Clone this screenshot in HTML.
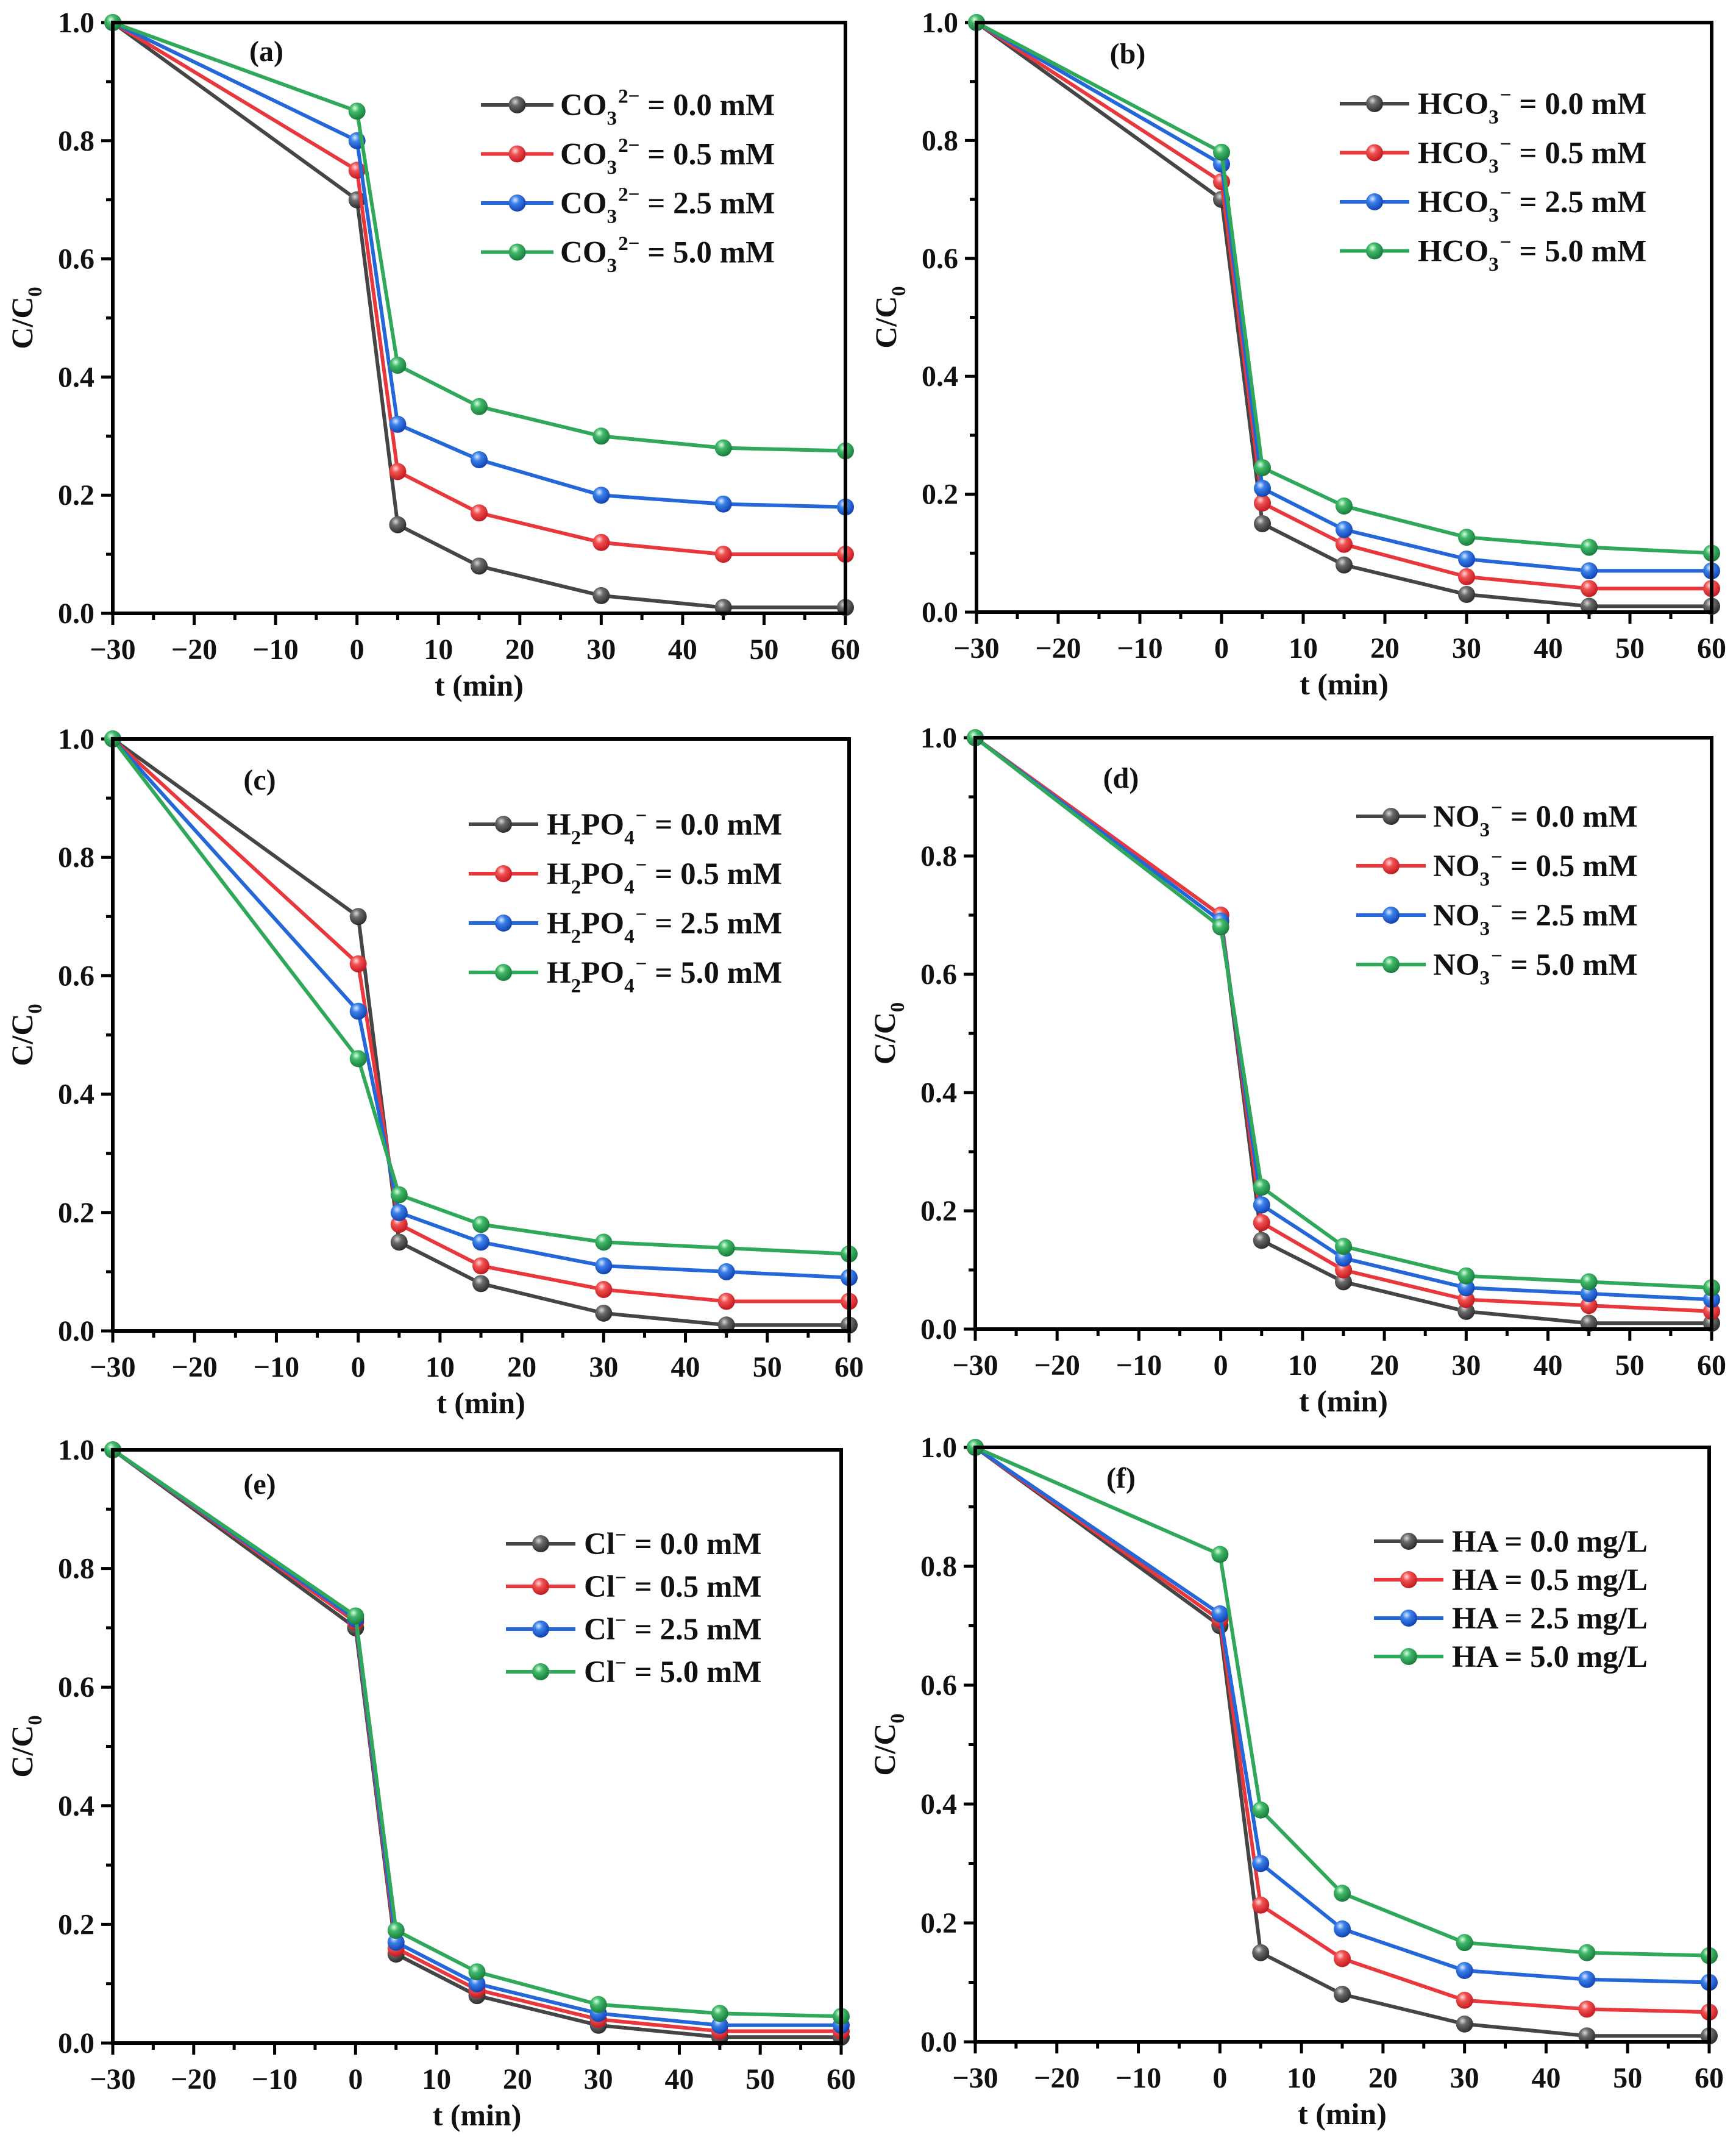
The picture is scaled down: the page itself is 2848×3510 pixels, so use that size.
<!DOCTYPE html>
<html><head><meta charset="utf-8"><style>
html,body{margin:0;padding:0;background:#fff;}
svg{display:block;}
text{font-family:"Liberation Serif",serif;font-weight:bold;fill:#111;}
</style></head>
<body>
<svg id="fig" width="2848" height="3510" viewBox="0 0 2848 3510" xmlns="http://www.w3.org/2000/svg">
<defs>
<radialGradient id="g-black" cx="0.38" cy="0.32" r="0.7"><stop offset="0" stop-color="#d8d8d8"/><stop offset="0.35" stop-color="#6a6a6a"/><stop offset="1" stop-color="#2a2a2a"/></radialGradient>
<radialGradient id="g-red" cx="0.38" cy="0.32" r="0.7"><stop offset="0" stop-color="#ffd8d8"/><stop offset="0.35" stop-color="#f05050"/><stop offset="1" stop-color="#c01820"/></radialGradient>
<radialGradient id="g-blue" cx="0.38" cy="0.32" r="0.7"><stop offset="0" stop-color="#d8e8ff"/><stop offset="0.35" stop-color="#3a80e8"/><stop offset="1" stop-color="#1040b0"/></radialGradient>
<radialGradient id="g-green" cx="0.38" cy="0.32" r="0.7"><stop offset="0" stop-color="#d8ffe4"/><stop offset="0.35" stop-color="#40b868"/><stop offset="1" stop-color="#187a3c"/></radialGradient>
</defs>
</svg>
<script>
// shared data
const times = [-30, 0, 5, 15, 30, 45, 60];
const xTicks = [-30, -20, -10, 0, 10, 20, 30, 40, 50, 60];
const yTicks = [0.0, 0.2, 0.4, 0.6, 0.8, 1.0];
const panelNames = ['a', 'b', 'c', 'd', 'e', 'f'];
const seriesColors = ['black', 'red', 'blue', 'green'];
// panel (a) CO3 2-
const aBlack = [1, 0.70, 0.15, 0.08, 0.03, 0.01, 0.01];
const aRed   = [1, 0.75, 0.24, 0.17, 0.12, 0.10, 0.10];
const aBlue  = [1, 0.80, 0.32, 0.26, 0.20, 0.185, 0.18];
const aGreen = [1, 0.85, 0.42, 0.35, 0.30, 0.28, 0.275];
// panel (b) HCO3-
const bBlack = [1, 0.70, 0.15, 0.08, 0.03, 0.01, 0.01];
const bRed   = [1, 0.73, 0.185, 0.115, 0.06, 0.04, 0.04];
const bBlue  = [1, 0.76, 0.21, 0.14, 0.09, 0.07, 0.07];
const bGreen = [1, 0.78, 0.245, 0.18, 0.127, 0.11, 0.10];
// panel (c) H2PO4-
const cBlack = [1, 0.70, 0.15, 0.08, 0.03, 0.01, 0.01];
const cRed   = [1, 0.62, 0.18, 0.11, 0.07, 0.05, 0.05];
const cBlue  = [1, 0.54, 0.20, 0.15, 0.11, 0.10, 0.09];
const cGreen = [1, 0.46, 0.23, 0.18, 0.15, 0.14, 0.13];
// panel (d) NO3-
const dBlack = [1, 0.70, 0.15, 0.08, 0.03, 0.01, 0.01];
const dRed   = [1, 0.70, 0.18, 0.10, 0.05, 0.04, 0.03];
const dBlue  = [1, 0.69, 0.21, 0.12, 0.07, 0.06, 0.05];
const dGreen = [1, 0.68, 0.24, 0.14, 0.09, 0.08, 0.07];
// panel (e) Cl-
const eBlack = [1, 0.70, 0.15, 0.08, 0.03, 0.01, 0.01];
const eRed   = [1, 0.71, 0.16, 0.09, 0.04, 0.02, 0.02];
const eBlue  = [1, 0.715, 0.17, 0.10, 0.05, 0.03, 0.03];
const eGreen = [1, 0.72, 0.19, 0.12, 0.065, 0.05, 0.045];
// panel (f) HA
const fBlack = [1, 0.70, 0.15, 0.08, 0.03, 0.01, 0.01];
const fRed   = [1, 0.71, 0.23, 0.14, 0.07, 0.055, 0.05];
const fBlue  = [1, 0.72, 0.30, 0.19, 0.12, 0.105, 0.10];
const fGreen = [1, 0.82, 0.39, 0.25, 0.167, 0.15, 0.145];
const concLevels = ['0.0', '0.5', '2.5', '5.0'];

const NS = 'http://www.w3.org/2000/svg';
const svg = document.getElementById('fig');
const lineColor = {black:'#454545', red:'#e8383d', blue:'#2467d8', green:'#2fa85a'};

function mk(tag, attrs, parent) {
  const e = document.createElementNS(NS, tag);
  for (const k in attrs) e.setAttribute(k, attrs[k]);
  (parent || svg).appendChild(e);
  return e;
}
// label parts: [text, 'n'|'sub'|'sup']
function richText(parent, x, y, parts, size, anchor) {
  const t = mk('text', {x: x, y: y, 'font-size': size, 'text-anchor': anchor || 'start'}, parent);
  let shift = 0;
  parts.forEach(p => {
    const ts = document.createElementNS(NS, 'tspan');
    let target = 0, fs = size;
    if (p[1] === 'sub') { target = size * 0.3; fs = size * 0.65; }
    if (p[1] === 'sup') { target = -size * 0.4; fs = size * 0.65; }
    ts.setAttribute('dy', target - shift);
    ts.setAttribute('font-size', fs);
    if (p[2]) ts.setAttribute('dx', p[2]);
    shift = target;
    ts.textContent = p[0];
    t.appendChild(ts);
  });
  return t;
}

const panels = [
  {id:'a', L:185, R:1387, T:37, B:1006, data:[aBlack,aRed,aBlue,aGreen], lab:[437,100], leg:{x1:789, x2:908, tx:919, y0:172, dy:80.5},
   name: c => [['CO','n'],['3','sub'],['2\u2212','sup',2],[' = '+c+' mM','n']]},
  {id:'b', L:1602, R:2808, T:37, B:1004, data:[bBlack,bRed,bBlue,bGreen], lab:[1850,104], leg:{x1:2198, x2:2312, tx:2326, y0:170, dy:80.5},
   name: c => [['HCO','n'],['3','sub'],['\u2212','sup',2],[' = '+c+' mM','n']]},
  {id:'c', L:185, R:1393, T:1212, B:2183, data:[cBlack,cRed,cBlue,cGreen], lab:[426,1295], leg:{x1:769, x2:883, tx:897, y0:1352, dy:81},
   name: c => [['H','n'],['2','sub'],['PO','n'],['4','sub'],['\u2212','sup',2],[' = '+c+' mM','n']]},
  {id:'d', L:1600, R:2808, T:1210, B:2180, data:[dBlack,dRed,dBlue,dGreen], lab:[1839,1292], leg:{x1:2225, x2:2339, tx:2351, y0:1339, dy:81},
   name: c => [['NO','n'],['3','sub'],['\u2212','sup',2],[' = '+c+' mM','n']]},
  {id:'e', L:185, R:1380, T:2378, B:3351, data:[eBlack,eRed,eBlue,eGreen], lab:[426,2450], leg:{x1:830, x2:944, tx:958, y0:2532, dy:70},
   name: c => [['Cl','n'],['\u2212','sup'],[' = '+c+' mM','n']]},
  {id:'f', L:1600, R:2804, T:2374, B:3349, data:[fBlack,fRed,fBlue,fGreen], lab:[1839,2440], leg:{x1:2254, x2:2368, tx:2382, y0:2528, dy:63},
   name: c => [['HA = '+c+' mg/L','n']]}
];

panels.forEach(p => {
  const g = mk('g', {});
  
  
  const sx = v => p.L + (v + 30) / 90 * (p.R - p.L);
  const sy = v => p.B - v * (p.B - p.T);

  for (let v = -25; v < 60; v += 10) {
    const t = mk('line', {x1: sx(v), x2: sx(v), y1: p.B, y2: p.B + 11, stroke: '#000', 'stroke-width': 5}, g);
    
    
  }
  for (let v = 0.1; v < 1; v += 0.2) {
    const t = mk('line', {x1: p.L - 11, x2: p.L, y1: sy(v), y2: sy(v), stroke: '#000', 'stroke-width': 5}, g);
    
    
  }
  xTicks.forEach(v => {
    const t = mk('line', {x1: sx(v), x2: sx(v), y1: p.B, y2: p.B + 19, stroke: '#000', 'stroke-width': 5}, g);
    
    
    const lbl = mk('text', {x: sx(v), y: p.B + 75, 'font-size': 48, 'text-anchor': 'middle'}, g);
    
    
    lbl.textContent = v < 0 ? '\u2212' + Math.abs(v) : String(v);
  });
  yTicks.forEach(v => {
    const t = mk('line', {x1: p.L - 19, x2: p.L, y1: sy(v), y2: sy(v), stroke: '#000', 'stroke-width': 5}, g);
    
    
    const lbl = mk('text', {x: p.L - 30, y: sy(v) + 16, 'font-size': 48, 'text-anchor': 'end'}, g);
    
    
    lbl.textContent = v.toFixed(1);
  });

  p.data.forEach((vals, si) => {
    const col = seriesColors[si];
    const pts = vals.map((v, i) => sx(times[i]) + ',' + sy(v)).join(' ');
    const pl = mk('polyline', {points: pts, fill: 'none', stroke: lineColor[col], 'stroke-width': 6, 'stroke-linejoin': 'round'}, g);
    
    
    vals.forEach((v, i) => {
      const c = mk('circle', {cx: sx(times[i]), cy: sy(v), r: 14, fill: 'url(#g-' + col + ')'}, g);
      
      
    });
  });

  const fr = mk('rect', {x: p.L, y: p.T, width: p.R - p.L, height: p.B - p.T, fill: 'none', stroke: '#000', 'stroke-width': 6}, g);
  
  

  const pl = mk('text', {x: p.lab[0], y: p.lab[1], 'font-size': 48, 'text-anchor': 'middle'}, g);
  
  
  pl.textContent = '(' + p.id + ')';

  const xt = mk('text', {x: (p.L + p.R) / 2, y: p.B + 135, 'font-size': 50, 'text-anchor': 'middle'}, g);
  
  
  xt.textContent = 't (min)';
  const yg = mk('g', {transform: 'translate(' + (p.L - 132) + ',' + ((p.T + p.B) / 2) + ') rotate(-90)'}, g);
  const yt = richText(yg, 0, 0, [['C/C', 'n'], ['0', 'sub']], 50, 'middle');
  
  

  const lg = mk('g', {}, g);
  
  
  seriesColors.forEach((col, i) => {
    const y = p.leg.y0 + i * p.leg.dy;
    const ln = mk('line', {x1: p.leg.x1, x2: p.leg.x2, y1: y, y2: y, stroke: lineColor[col], 'stroke-width': 6}, lg);
    
    
    const mc = mk('circle', {cx: (p.leg.x1 + p.leg.x2) / 2, cy: y, r: 14, fill: 'url(#g-' + col + ')'}, lg);
    
    
    const tx = richText(lg, p.leg.tx, y + 17, p.name(concLevels[i]), 51, 'start');
    
    
  });
});
</script>
</body></html>
